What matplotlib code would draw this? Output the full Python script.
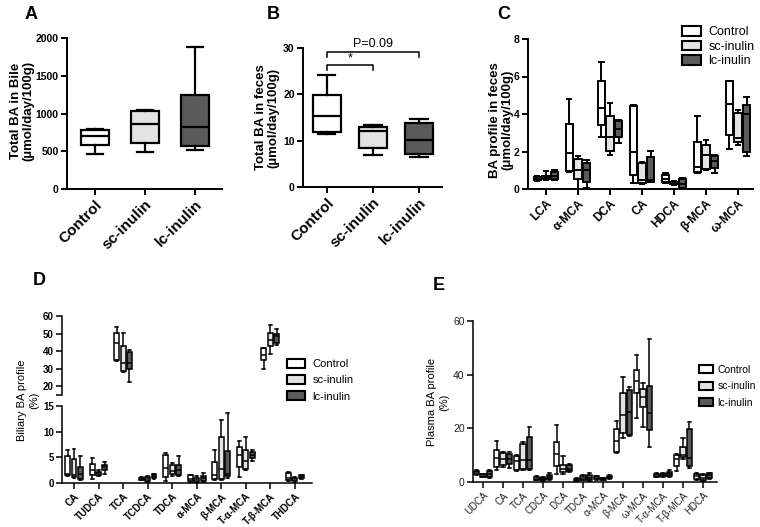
import matplotlib
matplotlib.use('Agg')
import matplotlib.pyplot as plt
from matplotlib.patches import Patch

plt.rcParams['font.family'] = ['Liberation Sans', 'DejaVu Sans']

groups = ['Control', 'sc-inulin', 'lc-inulin']
colors = ['#ffffff', '#e3e3e3', '#5a5a5a']

# each box: [min, q1, median, q3, max]
bile_total = [[470, 580, 700, 780, 800],
              [490, 610, 855, 1030, 1040],
              [510, 575, 815, 1245, 1880]]
feces_total = [[11.5, 11.8, 15.4, 19.9, 24.2],
               [6.8, 8.4, 12.0, 13.0, 13.4],
               [6.4, 7.2, 10.1, 13.8, 14.6]]

feces_labels = ['LCA', 'α-MCA', 'DCA', 'CA', 'HDCA', 'β-MCA', 'ω-MCA']
feces_control = [[0.45, 0.5, 0.55, 0.65, 0.7], [0.9, 0.95, 1.9, 3.45, 4.8],
                 [2.8, 3.4, 4.3, 5.75, 6.8], [0.3, 0.75, 1.95, 4.45, 4.5],
                 [0.3, 0.4, 0.55, 0.75, 0.85], [0.85, 0.9, 1.2, 2.5, 3.9],
                 [2.15, 2.9, 4.55, 5.75, 5.75]]
feces_sc = [[0.5, 0.55, 0.6, 0.7, 0.95], [0.0, 0.55, 1.0, 1.6, 1.75],
            [1.8, 2.05, 2.8, 3.9, 4.6], [0.25, 0.3, 0.5, 1.4, 1.45],
            [0.2, 0.25, 0.3, 0.4, 0.45], [1.0, 1.05, 1.8, 2.35, 2.6],
            [2.35, 2.5, 2.7, 4.05, 4.2]]
feces_lc = [[0.5, 0.55, 0.7, 0.9, 1.0], [0.05, 0.4, 1.0, 1.4, 1.55],
            [2.45, 2.75, 3.2, 3.65, 3.7], [0.35, 0.4, 0.5, 1.7, 2.05],
            [0.0, 0.05, 0.25, 0.55, 0.6], [0.85, 1.1, 1.5, 1.75, 1.8],
            [1.75, 2.0, 4.0, 4.5, 4.9]]

biliary_labels = ['CA', 'TUDCA', 'TCA', 'TCDCA', 'TDCA', 'α-MCA', 'β-MCA',
                  'T-α-MCA', 'T-β-MCA', 'THDCA']
biliary_control = [[1.3, 1.5, 1.8, 5.3, 6.5], [0.8, 1.5, 2.5, 3.7, 4.8],
                   [34.4, 35.0, 44.6, 50.4, 53.8], [0.5, 0.6, 0.8, 1.0, 1.1],
                   [0.4, 1.2, 3.0, 5.4, 5.9], [0.1, 0.3, 0.8, 1.5, 1.6],
                   [0.5, 0.7, 1.5, 4.1, 6.5], [1.1, 3.1, 5.5, 7.1, 8.1],
                   [29.8, 35.0, 37.9, 41.7, 42.0], [0.4, 0.6, 1.0, 1.9, 2.1]]
biliary_sc = [[1.0, 1.2, 1.5, 4.6, 6.7], [1.4, 1.6, 2.0, 2.2, 2.5],
              [27.9, 28.7, 33.1, 42.7, 50.4], [0.1, 0.3, 0.7, 1.2, 1.3],
              [1.3, 1.7, 2.3, 3.5, 3.8], [0.0, 0.2, 0.6, 1.0, 1.3],
              [0.6, 0.8, 2.8, 9.0, 12.3], [2.6, 2.8, 4.3, 6.5, 8.9],
              [38.3, 42.7, 46.5, 50.4, 54.6], [0.0, 0.3, 0.6, 0.9, 1.1]]
biliary_lc = [[0.6, 0.8, 1.8, 3.1, 5.3], [1.8, 2.5, 3.1, 3.5, 4.0],
              [22.5, 29.8, 33.1, 39.5, 40.8], [0.8, 1.0, 1.3, 1.7, 1.8],
              [1.4, 1.6, 2.5, 3.6, 5.3], [0.1, 0.3, 0.9, 1.3, 2.0],
              [1.0, 1.3, 1.8, 6.2, 13.7], [4.3, 4.9, 5.4, 6.0, 6.4],
              [43.7, 44.6, 48.5, 49.8, 52.7], [0.8, 0.9, 1.2, 1.5, 1.6]]

plasma_labels = ['UDCA', 'CA', 'TCA', 'CDCA', 'DCA', 'TDCA', 'α-MCA', 'β-MCA',
                 'ω-MCA', 'T-α-MCA', 'T-β-MCA', 'HDCA']
plasma_control = [[2.5, 2.9, 3.6, 4.2, 4.5], [4.4, 5.7, 9.0, 11.8, 15.4],
                  [4.0, 4.4, 7.9, 9.7, 10.1], [0.6, 0.9, 1.3, 2.0, 2.3],
                  [3.0, 5.8, 10.6, 15.0, 21.1], [0.2, 0.4, 0.8, 1.3, 1.6],
                  [0.7, 1.0, 1.4, 2.1, 2.4], [10.9, 11.3, 15.4, 19.6, 22.6],
                  [23.8, 33.2, 37.6, 41.6, 47.3], [1.8, 2.0, 2.6, 3.0, 3.2],
                  [4.0, 6.0, 8.5, 9.9, 10.3], [0.8, 1.0, 2.1, 3.1, 3.3]]
plasma_sc = [[1.7, 2.0, 2.3, 2.8, 3.0], [5.6, 6.2, 8.4, 10.8, 11.2],
             [4.4, 4.8, 8.1, 14.2, 14.9], [0.4, 0.6, 1.0, 1.5, 1.7],
             [2.9, 3.9, 4.7, 6.3, 9.6], [0.6, 0.9, 1.6, 2.2, 2.5],
             [0.6, 0.8, 1.1, 1.4, 1.6], [16.3, 18.3, 25.1, 33.0, 39.1],
             [20.6, 27.9, 31.6, 34.7, 37.0], [1.9, 2.1, 2.5, 3.1, 3.3],
             [8.5, 9.3, 10.0, 12.9, 16.3], [0.5, 0.8, 1.4, 2.5, 2.8]]
plasma_lc = [[1.4, 1.9, 2.8, 4.2, 4.6], [5.2, 6.6, 8.7, 10.4, 11.0],
             [4.4, 4.8, 8.2, 16.6, 20.5], [0.6, 1.0, 1.7, 2.6, 3.3],
             [3.8, 4.2, 5.0, 6.4, 6.7], [0.5, 0.9, 1.6, 2.6, 3.5],
             [1.3, 1.6, 2.0, 2.4, 2.6], [17.1, 17.5, 26.0, 34.4, 35.4],
             [12.9, 19.5, 25.6, 35.7, 53.2], [1.7, 2.2, 3.0, 3.6, 4.6],
             [5.4, 5.9, 9.1, 19.6, 22.2], [1.0, 1.6, 2.7, 3.2, 3.5]]


def to_stats(rows):
    return [dict(whislo=r[0], q1=r[1], med=r[2], q3=r[3], whishi=r[4]) for r in rows]


def draw_boxes(ax, rows, pos, color, width, lw):
    line = dict(color='black', linewidth=lw)
    ax.bxp(to_stats(rows), positions=pos, widths=width, capwidths=width * 0.6,
           patch_artist=True, showfliers=False, manage_ticks=False,
           boxprops=dict(facecolor=color, edgecolor='black', linewidth=lw),
           medianprops=line, whiskerprops=line, capprops=line)


def style(ax, lw):
    ax.spines[['top', 'right']].set_visible(False)
    ax.spines[['left', 'bottom']].set_linewidth(lw)
    ax.tick_params(width=lw, length=4, pad=2)


def grouped(ax, data, n, offset, width, lw):
    for k, rows in enumerate(data):
        pos = [i + 1 + (k - 1) * offset for i in range(n)]
        draw_boxes(ax, rows, pos, colors[k], width, lw)


W, H = 760, 527
fig = plt.figure(figsize=(7.6, 5.27), dpi=100)


def px_axes(left, top, right, bottom):
    return fig.add_axes([left / W, 1 - bottom / H, (right - left) / W, (bottom - top) / H])


# ---- A ----
axA = px_axes(67, 38, 222, 189)
for k in range(3):
    draw_boxes(axA, [bile_total[k]], [k + 1], colors[k], 0.56, 1.6)
axA.set_xlim(0.44, 3.54)
axA.set_ylim(0, 2000)
axA.set_yticks([0, 500, 1000, 1500, 2000])
axA.set_xticks([1, 2, 3])
axA.set_xticklabels(groups, rotation=45, ha='right', rotation_mode='anchor',
                    fontsize=11, fontweight='bold')
for t in axA.get_yticklabels():
    t.set_fontsize(7.5)
    t.set_fontweight('bold')
style(axA, 1.4)
axA.set_ylabel('Total BA in Bile\n(µmol/day/100g)', fontsize=9.5, fontweight='bold',
               linespacing=1.05)
axA.yaxis.set_label_coords(-0.21, 0.52)

# ---- B ----
axB = px_axes(303, 48, 442, 187)
for k in range(3):
    draw_boxes(axB, [feces_total[k]], [k + 1], colors[k], 0.62, 1.6)
axB.set_xlim(0.48, 3.5)
axB.set_ylim(0, 30)
axB.set_yticks([0, 10, 20, 30])
axB.set_xticks([1, 2, 3])
axB.set_xticklabels(groups, rotation=45, ha='right', rotation_mode='anchor',
                    fontsize=11, fontweight='bold')
for t in axB.get_yticklabels():
    t.set_fontsize(7.5)
    t.set_fontweight('bold')
style(axB, 1.4)
axB.set_ylabel('Total BA in feces\n(µmol/day/100g)', fontsize=9.5, fontweight='bold',
               linespacing=1.05)
axB.yaxis.set_label_coords(-0.17, 0.5)
axB.plot([1, 1, 3, 3], [28.0, 29.1, 29.1, 28.0], color='black', lw=1.1, clip_on=False)
axB.text(2, 29.6, 'P=0.09', ha='center', va='bottom', fontsize=9)
axB.plot([1, 1, 2, 2], [25.3, 26.3, 26.3, 25.3], color='black', lw=1.1, clip_on=False)
axB.text(1.5, 26.4, '*', ha='center', va='bottom', fontsize=9)

# ---- C ----
axC = px_axes(528, 39, 753, 189)
grouped(axC, [feces_control, feces_sc, feces_lc], 7, 0.27, 0.23, 1.4)
axC.set_xlim(0.44, 7.47)
axC.set_ylim(0, 8)
axC.set_yticks([0, 2, 4, 6, 8])
axC.set_xticks(range(1, 8))
axC.set_xticklabels(feces_labels, rotation=45, ha='right', rotation_mode='anchor',
                    fontsize=8.5, fontweight='bold')
for t in axC.get_yticklabels():
    t.set_fontsize(7.5)
    t.set_fontweight('bold')
style(axC, 1.4)
axC.set_ylabel('BA profile in feces\n(μmol/day/100g)', fontsize=9.5, fontweight='bold',
               linespacing=1.05)
axC.yaxis.set_label_coords(-0.065, 0.46)

handles = [Patch(facecolor=c, edgecolor='black', linewidth=1.5) for c in colors]
fig.legend(handles, groups, loc='upper left', bbox_to_anchor=(682 / W, 1 - 26 / H),
           frameon=False, fontsize=9, handlelength=1.5, handleheight=0.8,
           labelspacing=0.2, handletextpad=0.6, borderpad=0, borderaxespad=0)

# ---- D (broken axis) ----
axDu = px_axes(62, 316, 312, 395)
axDl = px_axes(62, 406, 312, 483)
for ax in (axDu, axDl):
    grouped(ax, [biliary_control, biliary_sc, biliary_lc], 10, 0.26, 0.2, 1.1)
    ax.set_xlim(0.51, 10.7)
    style(ax, 1.1)
axDu.set_ylim(15, 60)
axDu.set_yticks([15, 20, 30, 40, 50, 60])
axDu.set_yticklabels(['', '20', '30', '40', '50', '60'], fontsize=7, fontweight='bold')
axDu.spines['bottom'].set_visible(False)
axDu.tick_params(axis='x', bottom=False, labelbottom=False)
axDl.set_ylim(0, 15)
axDl.set_yticks([0, 5, 10, 15])
axDl.set_yticklabels(['0', '5', '10', '15'], fontsize=7, fontweight='bold')
axDl.set_xticks(range(1, 11))
axDl.set_xticklabels(biliary_labels, rotation=45, ha='right', rotation_mode='anchor',
                     fontsize=7, fontweight='bold')
fig.text(28 / W, 1 - 400 / H, 'Biliary BA profile\n(%)', rotation=90, ha='center',
         va='center', multialignment='center', fontsize=8)
fig.legend(handles, groups, loc='upper left', bbox_to_anchor=(287 / W, 1 - 359 / H),
           frameon=False, fontsize=8, handlelength=1.6, handleheight=0.8,
           labelspacing=0.55, handletextpad=0.7, borderpad=0, borderaxespad=0)

# ---- E ----
axE = px_axes(473, 321, 717, 482)
grouped(axE, [plasma_control, plasma_sc, plasma_lc], 12, 0.31, 0.26, 1.1)
axE.set_xlim(0.5, 12.7)
axE.set_ylim(0, 60)
axE.set_yticks([0, 20, 40, 60])
axE.set_xticks(range(1, 13))
axE.set_xticklabels(plasma_labels, rotation=45, ha='right', rotation_mode='anchor',
                    fontsize=7, color='#222222')
for t in axE.get_yticklabels():
    t.set_fontsize(7.5)
    t.set_color('#222222')
style(axE, 1.1)
fig.text(438 / W, 1 - 402 / H, 'Plasma BA profile\n(%)', rotation=90, ha='center',
         va='center', multialignment='center', fontsize=8)
fig.legend(handles, groups, loc='upper left', bbox_to_anchor=(699 / W, 1 - 365 / H),
           frameon=False, fontsize=7.5, handlelength=1.3, handleheight=0.8,
           labelspacing=0.6, handletextpad=0.5, borderpad=0, borderaxespad=0)

# panel letters
for letter, x, y in [('A', 25, 6), ('B', 267, 6), ('C', 497, 6), ('D', 33, 272), ('E', 433, 277)]:
    fig.text(x / W, 1 - y / H, letter, fontsize=13, fontweight='bold', va='top', ha='left')

fig.savefig('out.png', dpi=100)
